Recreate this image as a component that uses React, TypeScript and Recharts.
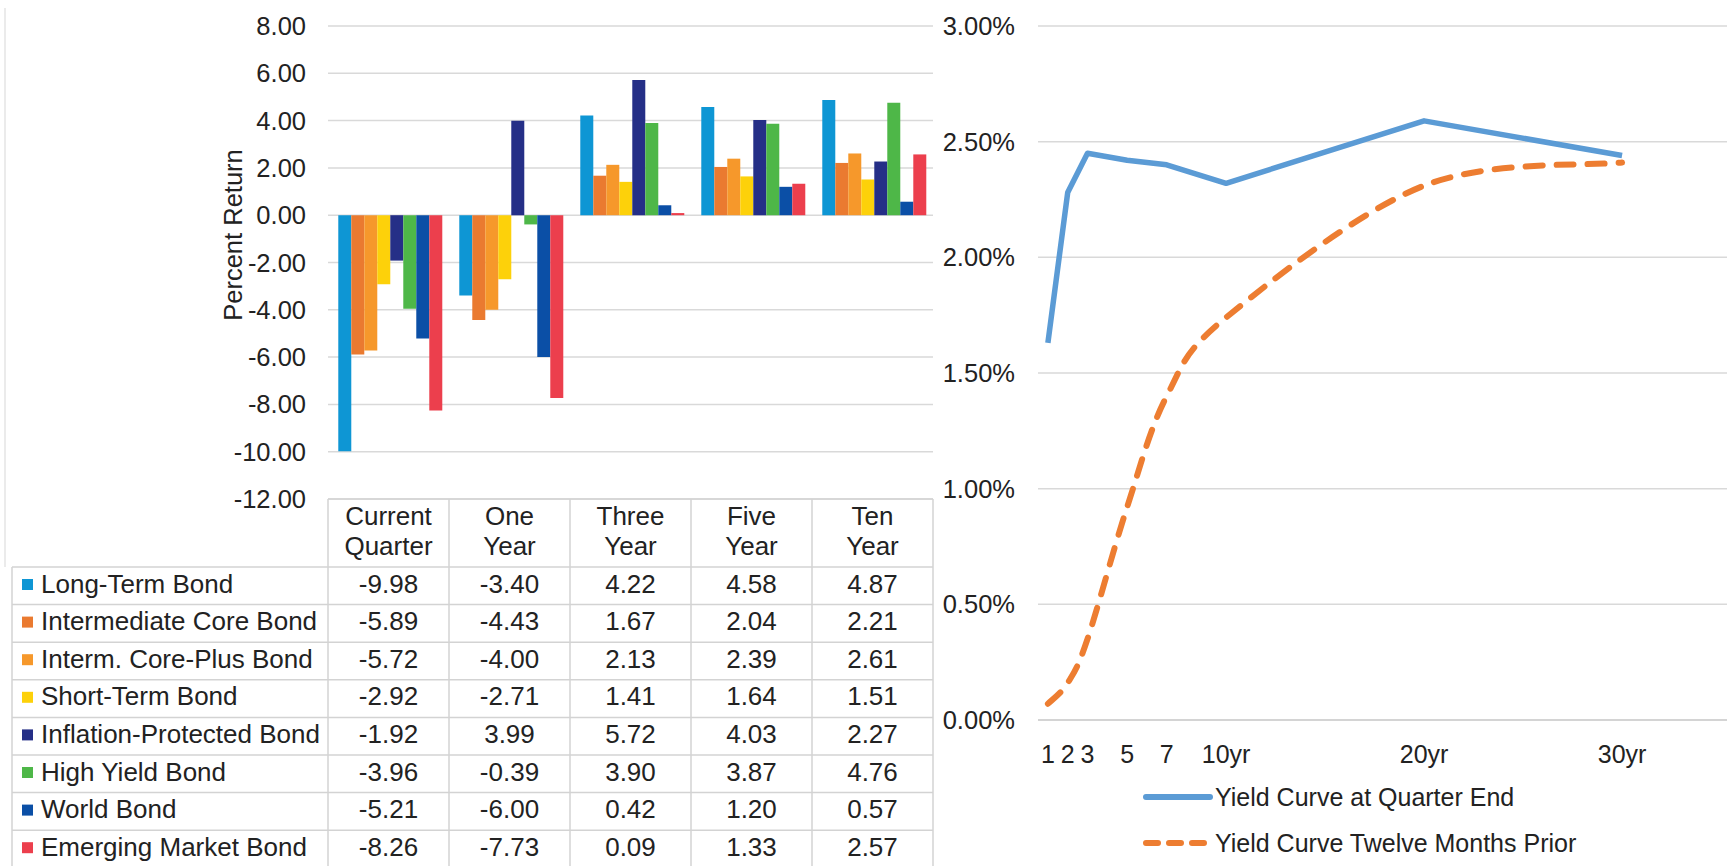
import React from 'react';
import { BarChart, Bar, XAxis, YAxis, CartesianGrid, LineChart, Line, Legend } from 'recharts';

// ---------- Data: bar chart / table ----------
const periods = ['Current Quarter', 'One Year', 'Three Year', 'Five Year', 'Ten Year'];
const periodHeaderLines = [
  ['Current', 'Quarter'],
  ['One', 'Year'],
  ['Three', 'Year'],
  ['Five', 'Year'],
  ['Ten', 'Year'],
];
const longTermBond = [-9.98, -3.4, 4.22, 4.58, 4.87];
const intermediateCoreBond = [-5.89, -4.43, 1.67, 2.04, 2.21];
const intermCorePlusBond = [-5.72, -4.0, 2.13, 2.39, 2.61];
const shortTermBond = [-2.92, -2.71, 1.41, 1.64, 1.51];
const inflationProtectedBond = [-1.92, 3.99, 5.72, 4.03, 2.27];
const highYieldBond = [-3.96, -0.39, 3.9, 3.87, 4.76];
const worldBond = [-5.21, -6.0, 0.42, 1.2, 0.57];
const emergingMarketBond = [-8.26, -7.73, 0.09, 1.33, 2.57];
const returnTicks = [-12, -10, -8, -6, -4, -2, 0, 2, 4, 6, 8];

// ---------- Data: yield curve ----------
const maturities = [1, 2, 3, 5, 7, 10, 20, 30];
const maturityLabels = ['1', '2', '3', '5', '7', '10yr', '20yr', '30yr'];
const yieldQuarterEnd = [1.63, 2.28, 2.45, 2.42, 2.4, 2.32, 2.59, 2.44];
const yieldTwelveMonthsPrior = [0.07, 0.16, 0.35, 0.92, 1.4, 1.74, 2.31, 2.41];
const yieldTicks = [0, 0.5, 1, 1.5, 2, 2.5, 3];

const seriesDefs = [
  { key: 's0', name: 'Long-Term Bond', values: longTermBond, color: '#0E96D4' },
  { key: 's1', name: 'Intermediate Core Bond', values: intermediateCoreBond, color: '#EA7A30' },
  { key: 's2', name: 'Interm. Core-Plus Bond', values: intermCorePlusBond, color: '#F6982B' },
  { key: 's3', name: 'Short-Term Bond', values: shortTermBond, color: '#FDD10A' },
  { key: 's4', name: 'Inflation-Protected Bond', values: inflationProtectedBond, color: '#252F87' },
  { key: 's5', name: 'High Yield Bond', values: highYieldBond, color: '#4EB748' },
  { key: 's6', name: 'World Bond', values: worldBond, color: '#0B4FA6' },
  { key: 's7', name: 'Emerging Market Bond', values: emergingMarketBond, color: '#EC3F4D' },
];

const barData = periods.map((p, i) => {
  const row: any = { period: p };
  seriesDefs.forEach((s) => {
    row[s.key] = s.values[i];
  });
  return row;
});

// Spreadsheet-style smoothed line (Bezier through the points, control points at 1/6 of the neighbour span)
function smoothCurve(context: any) {
  let pts: number[][] = [];
  return {
    areaStart() {},
    areaEnd() {},
    lineStart() {
      pts = [];
    },
    point(x: number, y: number) {
      pts.push([+x, +y]);
    },
    lineEnd() {
      const n = pts.length;
      if (n === 0) return;
      context.moveTo(pts[0][0], pts[0][1]);
      for (let i = 0; i < n - 1; i++) {
        const p0 = pts[Math.max(0, i - 1)];
        const p1 = pts[i];
        const p2 = pts[i + 1];
        const p3 = pts[Math.min(n - 1, i + 2)];
        context.bezierCurveTo(
          p1[0] + (p2[0] - p0[0]) / 6,
          p1[1] + (p2[1] - p0[1]) / 6,
          p2[0] - (p3[0] - p1[0]) / 6,
          p2[1] - (p3[1] - p1[1]) / 6,
          p2[0],
          p2[1]
        );
      }
    },
  };
}

const lineDefs = [
  { key: 'now', name: 'Yield Curve at Quarter End', values: yieldQuarterEnd, color: '#5B9BD5', dash: undefined as string | undefined, curve: 'linear' as any },
  { key: 'prior', name: 'Yield Curve Twelve Months Prior', values: yieldTwelveMonthsPrior, color: '#ED7D31', dash: '17 14', curve: smoothCurve as any },
];

const lineData = maturities.map((m, i) => {
  const row: any = { maturity: m };
  lineDefs.forEach((l) => {
    row[l.key] = l.values[i];
  });
  return row;
});

// ---------- Layout ----------
const FONT = '"Liberation Sans", Arial, Helvetica, sans-serif';
const TEXT = '#222222';
const GRID = '#d9d9d9';
const BORDER = '#d3d3d3';

const BAR_W = 940;
const BAR_H = 866;
const BAR_MARGIN = { top: 26, right: 7, bottom: 0, left: 0 };
const YAXIS_W = 328;
const XAXIS_H = BAR_H - BAR_MARGIN.top - 473;
const BAND = (BAR_W - BAR_MARGIN.right - YAXIS_W) / periods.length;
const TABLE_LEFT = 12;
const HEADER_H = 68;
const ROW_H = 37.6;

function TableTick(props: any) {
  const { x, y, payload } = props;
  const i = payload.index;
  const half = BAND / 2;
  const left = x - half;
  const right = x + half;
  const rowTop = y + HEADER_H;
  const bottom = rowTop + ROW_H * seriesDefs.length;
  const lines = periodHeaderLines[i];
  const els: any[] = [];
  els.push(<line key="ht" x1={left} x2={right} y1={y} y2={y} stroke={BORDER} strokeWidth={1.5} />);
  els.push(<line key="rv" x1={right} x2={right} y1={y} y2={bottom} stroke={BORDER} strokeWidth={1.5} />);
  if (i === 0) {
    els.push(<line key="lv" x1={left} x2={left} y1={y} y2={bottom} stroke={BORDER} strokeWidth={1.5} />);
    els.push(<line key="tl" x1={TABLE_LEFT} x2={TABLE_LEFT} y1={rowTop} y2={bottom} stroke={BORDER} strokeWidth={1.5} />);
    els.push(<line key="frame" x1={5} x2={5} y1={8} y2={rowTop} stroke="#e4e4e4" strokeWidth={1.5} />);
  }
  els.push(
    <text key="h1" x={x} y={y + 26} textAnchor="middle" fontSize={26} fill={TEXT} fontFamily={FONT}>
      {lines[0]}
    </text>
  );
  els.push(
    <text key="h2" x={x} y={y + 56} textAnchor="middle" fontSize={26} fill={TEXT} fontFamily={FONT}>
      {lines[1]}
    </text>
  );
  seriesDefs.forEach((s, k) => {
    const top = rowTop + k * ROW_H;
    const x0 = i === 0 ? TABLE_LEFT : left;
    els.push(<line key={'r' + k} x1={x0} x2={right} y1={top} y2={top} stroke={BORDER} strokeWidth={1.5} />);
    els.push(
      <text key={'v' + k} x={x} y={top + 25.5} textAnchor="middle" fontSize={26} fill={TEXT} fontFamily={FONT}>
        {s.values[i].toFixed(2)}
      </text>
    );
    if (i === 0) {
      els.push(<rect key={'sq' + k} x={TABLE_LEFT + 10} y={top + 12} width={11} height={11} fill={s.color} />);
      els.push(
        <text key={'n' + k} x={TABLE_LEFT + 29} y={top + 25.5} textAnchor="start" fontSize={26} fill={TEXT} fontFamily={FONT}>
          {s.name}
        </text>
      );
    }
  });
  return <g>{els}</g>;
}

function YLabel(props: any) {
  const vb = props.viewBox || { x: 0, y: 0 };
  const cx = vb.x + 233;
  const cy = vb.y + 209;
  return (
    <text
      transform={`translate(${cx},${cy}) rotate(-90)`}
      textAnchor="middle"
      dominantBaseline="central"
      fontSize={25.5}
      fill={TEXT}
      fontFamily={FONT}
    >
      Percent Return
    </text>
  );
}

function YieldLegend() {
  return (
    <div style={{ fontFamily: FONT, fontSize: 25, color: TEXT }}>
      {lineDefs.map((l) => (
        <div key={l.key} style={{ display: 'flex', alignItems: 'center', height: 46, whiteSpace: 'nowrap' }}>
          <svg width={72} height={10} style={{ display: 'block' }}>
            <line
              x1={4}
              x2={68}
              y1={5}
              y2={5}
              stroke={l.color}
              strokeWidth={6}
              strokeLinecap="round"
              strokeDasharray={l.dash ? '12 11' : undefined}
            />
          </svg>
          <span style={{ marginLeft: 1 }}>{l.name}</span>
        </div>
      ))}
    </div>
  );
}

export default function App() {
  return (
    <div style={{ position: 'absolute', left: 0, top: 0, width: 1727, height: 866, background: '#ffffff', overflow: 'hidden' }}>
      <div style={{ position: 'absolute', left: 0, top: 0 }}>
        <BarChart
          width={BAR_W}
          height={BAR_H}
          data={barData}
          margin={BAR_MARGIN}
          barCategoryGap="8.5%"
          barGap={0}
        >
          <CartesianGrid vertical={false} stroke={GRID} strokeWidth={1.5} />
          <XAxis
            dataKey="period"
            height={XAXIS_H}
            tickLine={false}
            axisLine={false}
            tickSize={0}
            tickMargin={0}
            interval={0}
            tick={<TableTick />}
          />
          <YAxis
            width={YAXIS_W}
            domain={[-12, 8]}
            ticks={returnTicks}
            interval={0}
            tickLine={false}
            axisLine={false}
            tickSize={0}
            tickMargin={22}
            tickFormatter={(v: number) => v.toFixed(2)}
            tick={{ fontSize: 25.5, fill: TEXT, fontFamily: FONT }}
            label={<YLabel />}
          />
          {seriesDefs.map((s) => (
            <Bar key={s.key} dataKey={s.key} name={s.name} fill={s.color} isAnimationActive={false} />
          ))}
        </BarChart>
      </div>
      <div style={{ position: 'absolute', left: 920, top: 0 }}>
        <LineChart width={807} height={866} data={lineData} margin={{ top: 26, right: 0, bottom: 0, left: 0 }}>
          <CartesianGrid vertical={false} stroke={GRID} strokeWidth={1.5} />
          <XAxis
            dataKey="maturity"
            type="number"
            domain={[0.5, 35.3]}
            ticks={maturities}
            interval={0}
            height={146}
            tickLine={false}
            axisLine={{ stroke: '#d4d4d4', strokeWidth: 2 }}
            tickSize={0}
            tickMargin={25}
            tickFormatter={(v: number) => maturityLabels[maturities.indexOf(v)] ?? String(v)}
            tick={{ fontSize: 25, fill: TEXT, fontFamily: FONT }}
            allowDataOverflow
          />
          <YAxis
            width={118}
            domain={[0, 3]}
            ticks={yieldTicks}
            interval={0}
            tickLine={false}
            axisLine={false}
            tickSize={0}
            tickMargin={23}
            tickFormatter={(v: number) => v.toFixed(2) + '%'}
            tick={{ fontSize: 25.5, fill: TEXT, fontFamily: FONT }}
          />
          {lineDefs.map((l) => (
            <Line
              key={l.key}
              dataKey={l.key}
              name={l.name}
              type={l.curve}
              stroke={l.color}
              strokeWidth={l.dash ? 6 : 5.5}
              strokeDasharray={l.dash}
              strokeLinecap={l.dash ? 'round' : 'butt'}
              strokeLinejoin="round"
              dot={false}
              activeDot={false}
              isAnimationActive={false}
            />
          ))}
          <Legend
            layout="vertical"
            align="center"
            verticalAlign="middle"
            content={<YieldLegend />}
            wrapperStyle={{ left: 222, top: 774, width: 'auto' }}
          />
        </LineChart>
      </div>
    </div>
  );
}
